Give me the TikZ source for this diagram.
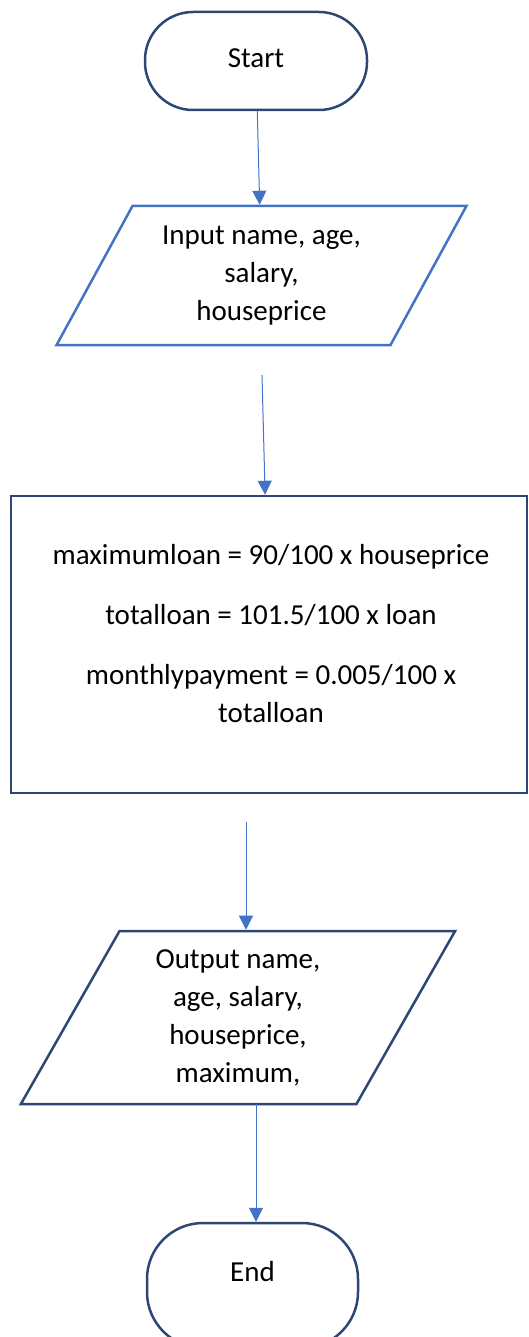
\documentclass[tikz,border=0pt]{standalone}
\usepackage{fontspec}
\setmainfont{Carlito}
\usetikzlibrary{shapes.geometric,arrows.meta}
\definecolor{navy}{HTML}{2E4674}
\definecolor{accent}{HTML}{4472C4}

\begin{document}
\begin{tikzpicture}
		[x=1pt,y=-1pt,every node/.style={font=\fontsize{29pt}{38pt}\selectfont,align=center,inner sep=0pt},
		term/.style={draw=navy,line width=2.5pt,rounded corners=48pt},
		io/.style={trapezium,trapezium stretches=true,line width=2.5pt},
		proc/.style={draw=navy,line width=2.5pt},
		edge/.style={draw=accent,line width=1pt,-{Triangle[length=14pt,width=14pt]}}]
		\useasboundingbox (0,0) rectangle (529,1337);
		\node[term,minimum width=222pt,minimum height=98pt] (start) at (256,61) {};
		\node (starttext) at (256,58) {Start};
		\node[io,draw=accent,trapezium left angle=59.5,trapezium right angle=120.5,minimum width=411pt,minimum height=139pt] (inp) at (261.5,275.5) {Input name, age,\\salary,\\houseprice};
		\node[proc,minimum width=516pt,minimum height=297pt] (calc) at (269,644.5) {};
		\node (calctext) at (271,634) {maximumloan = 90/100 x houseprice\\[22pt]totalloan = 101.5/100 x loan\\[22pt]monthlypayment = 0.005/100 x\\totalloan};
		\node[io,draw=navy,trapezium left angle=63.3,trapezium right angle=116.7,minimum width=436pt,minimum height=173pt] (outp) at (238,1017.5) {Output name,\\age, salary,\\houseprice,\\maximum,};
		\node[term,rounded corners=56pt,minimum width=211pt,minimum height=125pt] (endn) at (252.5,1285.5) {};
		\node (endtext) at (252.5,1272) {End};
		\coordinate (a2) at (262,375);
		\coordinate (a3) at (246,822);
		\coordinate (a4) at (256,1104);
		
		\foreach \from/\to in {start/inp,a2/calc,a3/a3 |- outp.north,a4/a4 |- endn.north}
		\draw[edge] (\from) -- (\to);
		\end{tikzpicture}
\end{document}
